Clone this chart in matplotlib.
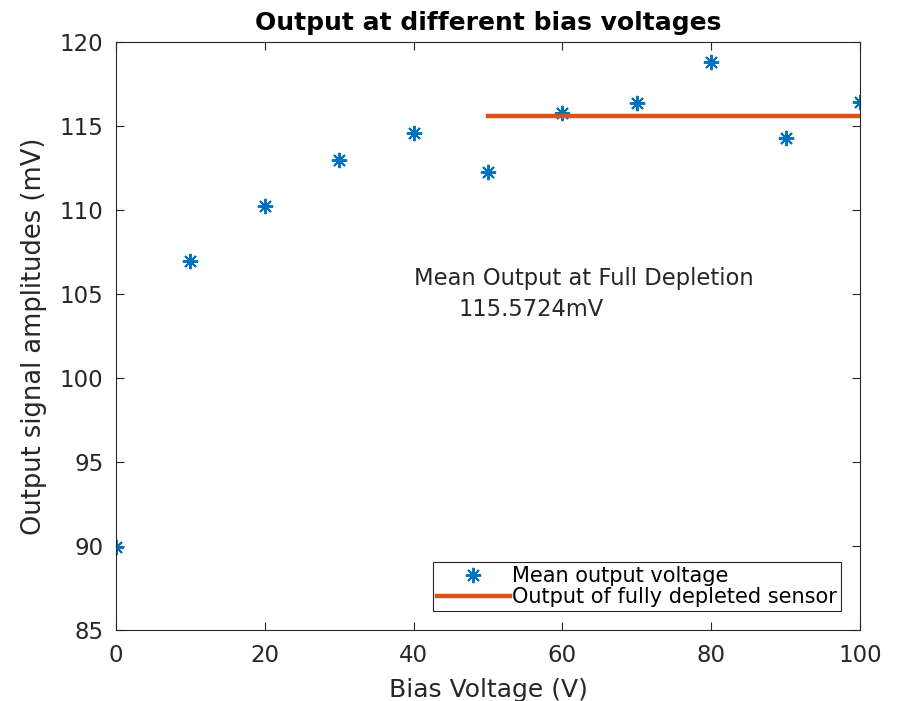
import matplotlib.pyplot as plt
import numpy as np

# Data
bias = [0, 10, 20, 30, 40, 50, 60, 70, 80, 90, 100]
amplitude = [89.95, 106.95, 110.25, 113.0, 114.6, 112.25, 115.75, 116.35, 118.8, 114.3, 116.45]
full_x = [50, 100]
full_mean = 115.5724

plt.rcParams['font.family'] = 'DejaVu Sans'
fig = plt.figure(figsize=(9.02, 7.01), dpi=100)
ax = fig.add_axes([0.1286, 0.1013, 0.8248, 0.8387])

dark = '#262626'
ax.plot(bias, amplitude, linestyle='none', marker=(8, 2, 0), markersize=11,
        markeredgewidth=1.4, color='#0072BD', label='Mean output voltage')
ax.plot(full_x, [full_mean, full_mean], color='#D95319', linewidth=3.2,
        label='Output of fully depleted sensor')

ax.set_xlim(0, 100)
ax.set_ylim(85, 120)
ax.set_xticks(np.arange(0, 101, 20))
ax.set_yticks(np.arange(85, 121, 5))
ax.tick_params(direction='in', top=True, right=True, labelsize=16.5,
               colors=dark, length=6, width=0.8)
ax.tick_params(axis='x', pad=10)
ax.tick_params(axis='y', pad=9)
for s in ax.spines.values():
    s.set_color(dark)
    s.set_linewidth(0.8)

ax.set_xlabel('Bias Voltage (V)', fontsize=18, color=dark, labelpad=8)
ax.set_ylabel('Output signal amplitudes (mV)', fontsize=18.5, color=dark, labelpad=9)
ax.set_title('Output at different bias voltages', fontsize=18, fontweight='bold', pad=9)

ax.text(40, 105.9, 'Mean Output at Full Depletion', fontsize=16.3, color=dark, va='center')
ax.text(46, 104.1, '%.4fmV' % full_mean, fontsize=16.3, color=dark, va='center')

leg = ax.legend(loc='lower right', bbox_to_anchor=(0.9745, 0.032), fontsize=15,
                handlelength=3.5, handletextpad=0.1, borderpad=0.2,
                labelspacing=0.05, fancybox=False, framealpha=1, borderaxespad=0)
leg.get_frame().set_edgecolor(dark)
leg.get_frame().set_linewidth(0.8)

fig.savefig('out.png', dpi=100)
